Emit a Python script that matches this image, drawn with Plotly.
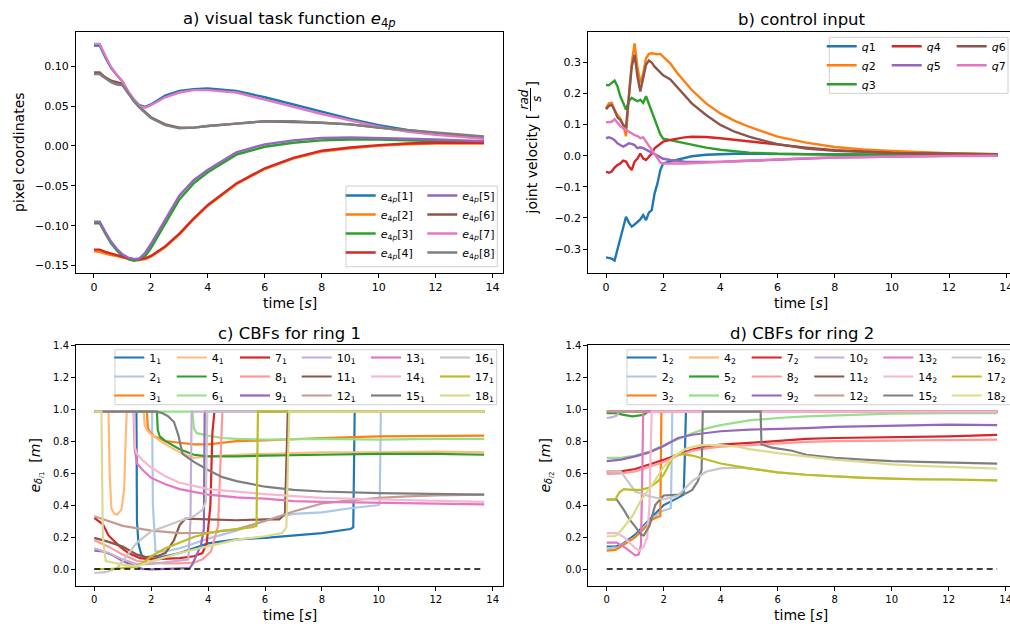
import plotly.graph_objects as go

W, H = 1010, 626


def px(x):
    return x / W


def py(y):
    return 1 - y / H


FONT = "DejaVu Sans"

# ---------------- a) visual task function ----------------
T_A = [0, 0.2, 0.4, 0.6, 0.8, 1.0, 1.2, 1.4, 1.6, 1.8, 2.0, 2.5, 3, 3.5, 4, 5, 6, 7, 8, 9, 10, 11, 12, 13, 13.7]
E4P_1 = [0.126, 0.126, 0.111, 0.098, 0.089, 0.081, 0.068, 0.058, 0.051, 0.049, 0.052, 0.063, 0.069, 0.071, 0.072, 0.069, 0.061, 0.052, 0.043, 0.034, 0.026, 0.020, 0.016, 0.013, 0.011]
E4P_2 = [-0.132, -0.133, -0.135, -0.137, -0.138, -0.140, -0.141, -0.142, -0.143, -0.142, -0.139, -0.127, -0.111, -0.092, -0.075, -0.048, -0.029, -0.016, -0.007, -0.003, 0.000, 0.002, 0.003, 0.003, 0.003]
E4P_3 = [-0.097, -0.097, -0.110, -0.122, -0.131, -0.138, -0.142, -0.144, -0.143, -0.138, -0.128, -0.097, -0.067, -0.047, -0.033, -0.011, -0.001, 0.004, 0.007, 0.008, 0.008, 0.007, 0.006, 0.005, 0.004]
E4P_4 = [-0.130, -0.130, -0.133, -0.135, -0.137, -0.139, -0.141, -0.142, -0.142, -0.141, -0.138, -0.126, -0.110, -0.091, -0.074, -0.047, -0.028, -0.015, -0.006, -0.002, 0.001, 0.003, 0.004, 0.004, 0.004]
E4P_5 = [-0.095, -0.095, -0.108, -0.120, -0.129, -0.136, -0.140, -0.142, -0.141, -0.134, -0.123, -0.092, -0.062, -0.043, -0.030, -0.008, 0.002, 0.007, 0.010, 0.0105, 0.010, 0.009, 0.008, 0.007, 0.006]
E4P_6 = [0.092, 0.092, 0.086, 0.082, 0.080, 0.078, 0.067, 0.057, 0.049, 0.042, 0.036, 0.027, 0.023, 0.023, 0.025, 0.028, 0.031, 0.030, 0.029, 0.027, 0.023, 0.019, 0.016, 0.013, 0.011]
E4P_7 = [0.128, 0.128, 0.113, 0.099, 0.089, 0.081, 0.068, 0.058, 0.050, 0.048, 0.051, 0.061, 0.067, 0.070, 0.070, 0.067, 0.058, 0.049, 0.040, 0.032, 0.024, 0.018, 0.014, 0.011, 0.009]
E4P_8 = [0.090, 0.090, 0.085, 0.080, 0.077, 0.076, 0.066, 0.056, 0.048, 0.041, 0.035, 0.026, 0.022, 0.023, 0.025, 0.028, 0.031, 0.031, 0.029, 0.027, 0.023, 0.020, 0.017, 0.014, 0.012]

# ---------------- b) control input ----------------
T_B = [0, 0.1, 0.2, 0.3, 0.4, 0.5, 0.6, 0.7, 0.8, 0.9, 1.0, 1.1, 1.2, 1.3, 1.4, 1.5, 1.6, 1.7, 1.8, 1.9, 2.0,
       2.25, 2.5, 2.75, 3, 3.5, 4, 4.5, 5, 6, 7, 8, 9, 10, 11, 12, 13, 13.7]
Q1 = [-0.327, -0.329, -0.331, -0.337, -0.303, -0.271, -0.239, -0.196, -0.215, -0.228, -0.221, -0.212, -0.205, -0.191, -0.207, -0.183, -0.175, -0.121, -0.089, -0.046, -0.025,
      -0.018, -0.012, -0.006, -0.002, 0.003, 0.005, 0.006, 0.006, 0.006, 0.005, 0.004, 0.004, 0.003, 0.003, 0.002, 0.002, 0.002]
Q2 = [0.152, 0.168, 0.170, 0.146, 0.131, 0.120, 0.099, 0.063, 0.190, 0.297, 0.361, 0.286, 0.233, 0.265, 0.313, 0.327, 0.329, 0.327, 0.326, 0.327, 0.318,
      0.296, 0.265, 0.238, 0.211, 0.168, 0.136, 0.112, 0.093, 0.061, 0.042, 0.028, 0.020, 0.015, 0.011, 0.008, 0.006, 0.005]
Q3 = [0.227, 0.226, 0.234, 0.241, 0.223, 0.191, 0.170, 0.148, 0.175, 0.186, 0.180, 0.175, 0.180, 0.170, 0.191, 0.166, 0.143, 0.116, 0.089, 0.068, 0.055,
      0.050, 0.045, 0.040, 0.034, 0.026, 0.019, 0.014, 0.010, 0.006, 0.004, 0.003, 0.003, 0.003, 0.003, 0.003, 0.003, 0.003]
Q4 = [-0.051, -0.055, -0.051, -0.038, -0.030, -0.025, -0.016, -0.019, -0.035, -0.046, -0.019, -0.009, 0.007, -0.009, -0.014, -0.003, 0.007, 0.024, 0.031, 0.040, 0.045,
      0.051, 0.056, 0.059, 0.061, 0.060, 0.056, 0.051, 0.045, 0.034, 0.026, 0.018, 0.013, 0.009, 0.007, 0.005, 0.004, 0.004]
Q5 = [0.056, 0.059, 0.056, 0.050, 0.040, 0.034, 0.029, 0.034, 0.040, 0.038, 0.034, 0.024, 0.027, 0.024, 0.020, 0.016, 0.010, 0.005, 0.000, -0.005, -0.010,
      -0.014, -0.017, -0.019, -0.020, -0.021, -0.020, -0.018, -0.016, -0.012, -0.009, -0.006, -0.004, -0.002, -0.001, 0.000, 0.000, 0.000]
Q6 = [0.149, 0.160, 0.163, 0.146, 0.123, 0.115, 0.099, 0.093, 0.190, 0.286, 0.324, 0.254, 0.206, 0.254, 0.292, 0.306, 0.299, 0.286, 0.276, 0.265, 0.258,
      0.245, 0.220, 0.193, 0.168, 0.131, 0.099, 0.077, 0.061, 0.037, 0.023, 0.016, 0.012, 0.009, 0.007, 0.006, 0.005, 0.005]
Q7 = [0.107, 0.109, 0.109, 0.117, 0.104, 0.095, 0.088, 0.082, 0.077, 0.070, 0.066, 0.063, 0.056, 0.059, 0.045, 0.034, 0.018, 0.005, -0.009, -0.022, -0.025,
      -0.026, -0.025, -0.025, -0.024, -0.022, -0.020, -0.017, -0.015, -0.011, -0.008, -0.006, -0.004, -0.003, -0.002, -0.001, 0.000, 0.000]

# ---------------- c) CBFs for ring 1 ----------------
R1_T01 = [0, 1.48, 1.5, 1.55, 1.65, 1.8, 2.0, 3.0, 4.0, 5.0, 6.0, 7.0, 8.0, 9.0, 9.1, 9.15, 13.7]
R1_V01 = [0.985, 0.985, 0.30, 0.16, 0.09, 0.07, 0.06, 0.10, 0.16, 0.185, 0.195, 0.21, 0.225, 0.25, 0.26, 0.985, 0.985]
R1_T02 = [0, 2.03, 2.06, 2.15, 2.5, 3.0, 3.5, 4.0, 5.0, 6.0, 7.0, 8.0, 9.0, 10.0, 10.03, 10.07, 13.7]
R1_V02 = [0.985, 0.985, 0.40, 0.11, 0.11, 0.13, 0.16, 0.19, 0.24, 0.305, 0.345, 0.355, 0.38, 0.40, 0.41, 0.985, 0.985]
R1_T03 = [0, 1.85, 1.88, 1.95, 2.1, 2.5, 3.0, 3.5, 4.0, 5.0, 6.0, 8.0, 10.0, 12.0, 13.7]
R1_V03 = [0.985, 0.985, 0.88, 0.86, 0.83, 0.80, 0.79, 0.78, 0.78, 0.80, 0.805, 0.82, 0.83, 0.835, 0.835]
R1_T04 = [0, 0.5, 0.54, 0.6, 0.7, 0.8, 0.95, 1.05, 1.1, 1.14, 1.74, 1.77, 1.85, 2.0, 2.5, 3.0, 3.5, 4.0, 5.0, 6.0, 8.0, 10.0, 12.0, 13.7]
R1_V04 = [0.985, 0.985, 0.60, 0.38, 0.345, 0.34, 0.37, 0.50, 0.80, 0.985, 0.985, 0.90, 0.87, 0.84, 0.78, 0.73, 0.695, 0.705, 0.715, 0.72, 0.73, 0.73, 0.735, 0.73]
R1_T05 = [0, 2.2, 2.23, 2.3, 2.5, 3.0, 3.5, 4.0, 5.0, 6.0, 8.0, 10.0, 12.0, 13.7]
R1_V05 = [0.985, 0.985, 0.87, 0.83, 0.80, 0.75, 0.715, 0.705, 0.705, 0.71, 0.715, 0.72, 0.72, 0.715]
R1_T06 = [0, 3.45, 3.5, 3.6, 4.0, 4.5, 5.0, 6.0, 8.0, 10.0, 12.0, 13.7]
R1_V06 = [0.985, 0.985, 0.88, 0.85, 0.835, 0.82, 0.815, 0.81, 0.815, 0.81, 0.815, 0.815]
R1_T07 = [0, 0.3, 0.5, 0.9, 1.2, 1.6, 2.0, 2.5, 3.0, 3.5, 3.8, 3.95, 4.08, 4.15, 4.22, 13.7]
R1_V07 = [0.32, 0.28, 0.21, 0.14, 0.10, 0.068, 0.06, 0.062, 0.068, 0.08, 0.10, 0.16, 0.40, 0.85, 0.985, 0.985]
R1_T08 = [0, 0.5, 1.0, 1.5, 2.0, 2.5, 3.0, 3.5, 3.8, 4.1, 4.35, 4.45, 4.5, 13.7]
R1_V08 = [0.18, 0.14, 0.09, 0.05, 0.04, 0.035, 0.035, 0.04, 0.06, 0.11, 0.27, 0.70, 0.985, 0.985]
R1_T09 = [0, 0.3, 0.6, 1.0, 1.4, 1.7, 2.0, 2.5, 3.0, 3.35, 3.45, 3.6, 3.75, 3.85, 3.88, 13.7]
R1_V09 = [0.115, 0.11, 0.09, 0.05, 0.02, 0.0, -0.002, 0.0, 0.002, 0.005, 0.03, 0.09, 0.15, 0.25, 0.985, 0.985]
R1_T10 = [0, 0.5, 1.0, 1.5, 2.0, 2.5, 3.0, 3.3, 3.38, 3.42, 13.7]
R1_V10 = [0.13, 0.10, 0.06, 0.03, 0.03, 0.04, 0.05, 0.06, 0.30, 0.985, 0.985]
R1_T11 = [0, 0.5, 1.0, 1.5, 1.8, 2.2, 2.5, 2.8, 3.0, 3.2, 4.0, 5.0, 6.0, 6.5, 6.7, 6.75, 6.8, 13.7]
R1_V11 = [0.195, 0.17, 0.14, 0.09, 0.075, 0.08, 0.10, 0.18, 0.275, 0.315, 0.31, 0.305, 0.31, 0.31, 0.345, 0.70, 0.985, 0.985]
R1_T12 = [0, 1.0, 2.0, 3.0, 4.0, 5.0, 6.0, 7.0, 8.0, 9.0, 10.0, 11.0, 12.0, 13.7]
R1_V12 = [0.33, 0.27, 0.24, 0.225, 0.227, 0.248, 0.30, 0.36, 0.41, 0.43, 0.445, 0.455, 0.46, 0.465]
R1_T13 = [0, 1.38, 1.42, 1.5, 1.7, 2.0, 2.5, 3.0, 4.0, 5.0, 6.0, 7.0, 8.0, 10.0, 12.0, 13.7]
R1_V13 = [0.985, 0.985, 0.75, 0.66, 0.62, 0.57, 0.53, 0.50, 0.465, 0.448, 0.44, 0.425, 0.42, 0.415, 0.41, 0.405]
R1_T14 = [0, 1.40, 1.43, 1.5, 1.7, 2.0, 2.5, 3.0, 4.0, 5.0, 6.0, 7.0, 8.0, 10.0, 12.0, 13.7]
R1_V14 = [0.985, 0.985, 0.76, 0.72, 0.68, 0.635, 0.58, 0.54, 0.50, 0.482, 0.468, 0.456, 0.445, 0.435, 0.425, 0.42]
R1_T15 = [0, 2.2, 2.4, 2.6, 2.8, 2.95, 3.1, 3.5, 4.0, 4.5, 5.0, 6.0, 7.0, 8.0, 10.0, 12.0, 13.7]
R1_V15 = [0.985, 0.985, 0.975, 0.955, 0.92, 0.84, 0.72, 0.67, 0.62, 0.575, 0.55, 0.515, 0.495, 0.485, 0.475, 0.47, 0.465]
R1_T16 = [0, 0.4, 0.8, 1.0, 1.2, 1.5, 2.0, 2.5, 3.0, 3.5, 3.8, 3.92, 3.97, 13.7]
R1_V16 = [-0.025, -0.02, 0.005, 0.05, 0.10, 0.165, 0.235, 0.27, 0.30, 0.33, 0.37, 0.42, 0.985, 0.985]
R1_T17 = [0, 0.5, 1.0, 1.5, 1.8, 2.0, 2.5, 3.0, 3.5, 4.0, 4.5, 5.0, 5.5, 5.7, 5.75, 13.7]
R1_V17 = [0.0, 0.0, 0.005, 0.015, 0.05, 0.08, 0.13, 0.165, 0.20, 0.225, 0.24, 0.25, 0.26, 0.27, 0.985, 0.985]
R1_T18 = [0, 0.25, 0.3, 0.4, 1.0, 1.5, 2.0, 3.0, 4.0, 5.0, 6.0, 6.6, 6.75, 6.8, 6.85, 13.7]
R1_V18 = [0.985, 0.985, 0.20, 0.05, 0.027, 0.017, 0.048, 0.10, 0.142, 0.184, 0.205, 0.225, 0.26, 0.70, 0.985, 0.985]

# ---------------- d) CBFs for ring 2 ----------------
R2_T01 = [0, 0.3, 0.5, 1.0, 1.5, 2.0, 2.5, 2.7, 2.74, 2.78, 13.7]
R2_V01 = [0.14, 0.14, 0.15, 0.215, 0.31, 0.40, 0.445, 0.465, 0.70, 0.985, 0.985]
R2_T02 = [0, 0.4, 1.0, 1.5, 1.9, 2.0, 2.25, 2.28, 2.3, 13.7]
R2_V02 = [0.13, 0.135, 0.20, 0.30, 0.36, 0.365, 0.38, 0.70, 0.985, 0.985]
R2_T03 = [0, 0.3, 0.5, 1.0, 1.3, 1.6, 1.85, 1.88, 1.92, 13.7]
R2_V03 = [0.115, 0.12, 0.14, 0.20, 0.25, 0.31, 0.33, 0.33, 0.985, 0.985]
R2_T04 = [0, 13.7]
R2_V04 = [0.985, 0.985]
R2_T05 = [0, 0.3, 0.6, 0.9, 1.1, 1.3, 1.45, 13.7]
R2_V05 = [0.975, 0.975, 0.965, 0.955, 0.96, 0.965, 0.985, 0.985]
R2_T06 = [0, 0.5, 1.0, 1.5, 2.0, 2.5, 3.0, 3.5, 4.0, 5.0, 6.0, 7.0, 8.0, 10.0, 12.0, 13.7]
R2_V06 = [0.695, 0.695, 0.71, 0.735, 0.775, 0.81, 0.85, 0.88, 0.90, 0.93, 0.945, 0.955, 0.962, 0.972, 0.976, 0.976]
R2_T07 = [0, 0.5, 1.0, 1.5, 2.0, 2.5, 3.0, 3.5, 4.0, 5.0, 6.0, 7.0, 8.0, 10.0, 12.0, 13.7]
R2_V07 = [0.61, 0.611, 0.626, 0.653, 0.684, 0.715, 0.747, 0.768, 0.778, 0.789, 0.803, 0.814, 0.82, 0.826, 0.83, 0.84]
R2_T08 = [0, 0.5, 1.0, 1.5, 2.0, 2.5, 3.0, 3.5, 4.0, 5.0, 6.0, 7.0, 8.0, 10.0, 12.0, 13.7]
R2_V08 = [0.595, 0.598, 0.61, 0.64, 0.67, 0.71, 0.74, 0.755, 0.765, 0.775, 0.785, 0.795, 0.80, 0.805, 0.81, 0.81]
R2_T09 = [0, 0.5, 1.0, 1.5, 2.0, 2.5, 3.0, 3.5, 4.0, 5.0, 6.0, 7.0, 8.0, 10.0, 12.0, 13.7]
R2_V09 = [0.675, 0.685, 0.705, 0.73, 0.77, 0.82, 0.84, 0.851, 0.862, 0.872, 0.876, 0.882, 0.889, 0.897, 0.903, 0.90]
R2_T10 = [0, 0.2, 0.35, 0.45, 13.7]
R2_V10 = [0.945, 0.95, 0.96, 0.985, 0.985]
R2_T11 = [0, 13.7]
R2_V11 = [0.985, 0.985]
R2_T12 = [0, 13.7]
R2_V12 = [0.985, 0.985]
R2_T13 = [0, 0.35, 0.6, 0.85, 1.0, 1.12, 1.2, 1.25, 1.28, 13.7]
R2_V13 = [0.165, 0.165, 0.14, 0.105, 0.085, 0.09, 0.15, 0.60, 0.985, 0.985]
R2_T14 = [0, 0.35, 0.6, 0.8, 1.0, 1.15, 1.3, 1.42, 1.5, 1.55, 1.58, 13.7]
R2_V14 = [0.225, 0.225, 0.20, 0.165, 0.13, 0.115, 0.14, 0.20, 0.40, 0.80, 0.985, 0.985]
R2_T15 = [0, 0.35, 0.6, 0.8, 1.0, 1.2, 1.3, 1.5, 1.7, 2.0, 2.5, 2.8, 3.0, 3.2, 3.33, 3.37, 5.4, 5.43, 5.8, 6.5, 7.0, 8.0, 9.0, 10.0, 11.0, 12.0, 13.0, 13.7]
R2_V15 = [0.435, 0.435, 0.37, 0.31, 0.265, 0.215, 0.21, 0.27, 0.40, 0.46, 0.465, 0.475, 0.495, 0.55, 0.62, 0.985, 0.985, 0.78, 0.76, 0.74, 0.715, 0.695, 0.685, 0.675, 0.67, 0.665, 0.66, 0.66]
R2_T16 = [0, 0.5, 0.7, 1.0, 1.5, 2.0, 2.5, 3.0, 3.5, 4.0, 4.6, 5.0, 6.0, 7.0, 8.0, 10.0, 12.0, 13.7]
R2_V16 = [0.61, 0.61, 0.56, 0.485, 0.455, 0.435, 0.46, 0.55, 0.61, 0.63, 0.635, 0.63, 0.605, 0.59, 0.58, 0.565, 0.56, 0.555]
R2_T17 = [0, 0.3, 0.45, 0.6, 0.9, 1.2, 1.5, 1.8, 2.0, 2.2, 2.35, 2.6, 3.0, 3.5, 4.0, 5.0, 6.0, 7.0, 8.0, 9.0, 10.0, 11.0, 12.0, 13.7]
R2_V17 = [0.435, 0.435, 0.48, 0.50, 0.495, 0.495, 0.51, 0.55, 0.59, 0.66, 0.71, 0.72, 0.71, 0.685, 0.66, 0.63, 0.605, 0.59, 0.58, 0.57, 0.565, 0.56, 0.56, 0.555]
R2_T18 = [0, 0.3, 0.5, 0.9, 1.2, 1.7, 2.0, 2.4, 2.8, 3.3, 4.0, 4.6, 5.0, 6.0, 7.0, 8.0, 9.0, 10.0, 11.0, 12.0, 13.7]
R2_V18 = [0.205, 0.205, 0.24, 0.33, 0.43, 0.555, 0.64, 0.71, 0.755, 0.775, 0.775, 0.765, 0.75, 0.725, 0.705, 0.685, 0.67, 0.655, 0.645, 0.638, 0.628]

ZERO_T = [0, 13.7]
ZERO_V = [0, 0]

TAB10 = ["#1f77b4", "#ff7f0e", "#2ca02c", "#d62728", "#9467bd", "#8c564b", "#e377c2", "#7f7f7f"]
TAB20 = ["#1f77b4", "#aec7e8", "#ff7f0e", "#ffbb78", "#2ca02c", "#98df8a", "#d62728", "#ff9896",
         "#9467bd", "#c5b0d5", "#8c564b", "#c49c94", "#e377c2", "#f7b6d2", "#7f7f7f", "#c7c7c7",
         "#bcbd22", "#dbdb8d"]

TIME_TICKS = [0, 2, 4, 6, 8, 10, 12, 14]
A_TICKS = [-0.15, -0.10, -0.05, 0.00, 0.05, 0.10]
B_TICKS = [-0.3, -0.2, -0.1, 0.0, 0.1, 0.2, 0.3]
CBF_TICKS = [0.0, 0.2, 0.4, 0.6, 0.8, 1.0, 1.2, 1.4]

fig = go.Figure()

# panel a
a_series = [E4P_1, E4P_2, E4P_3, E4P_4, E4P_5, E4P_6, E4P_7, E4P_8]
for i, ys in enumerate(a_series):
    fig.add_trace(go.Scatter(
        x=T_A, y=ys, mode="lines", line=dict(color=TAB10[i], width=2.4),
        name=f"<i>e</i><sub>4<i>p</i></sub>[{i + 1}]", xaxis="x", yaxis="y",
        legend="legend" if i < 4 else "legend2"))

# panel b
b_series = [Q1, Q2, Q3, Q4, Q5, Q6, Q7]
b_legend = ["legend3", "legend3", "legend3", "legend4", "legend4", "legend5", "legend5"]
for i, ys in enumerate(b_series):
    fig.add_trace(go.Scatter(
        x=T_B, y=ys, mode="lines", line=dict(color=TAB10[i], width=2.4),
        name=f"<i>q</i>{i + 1}", xaxis="x2", yaxis="y2", legend=b_legend[i]))

ring1 = [(R1_T01, R1_V01), (R1_T02, R1_V02), (R1_T03, R1_V03), (R1_T04, R1_V04), (R1_T05, R1_V05),
         (R1_T06, R1_V06), (R1_T07, R1_V07), (R1_T08, R1_V08), (R1_T09, R1_V09), (R1_T10, R1_V10),
         (R1_T11, R1_V11), (R1_T12, R1_V12), (R1_T13, R1_V13), (R1_T14, R1_V14), (R1_T15, R1_V15),
         (R1_T16, R1_V16), (R1_T17, R1_V17), (R1_T18, R1_V18)]
ring2 = [(R2_T01, R2_V01), (R2_T02, R2_V02), (R2_T03, R2_V03), (R2_T04, R2_V04), (R2_T05, R2_V05),
         (R2_T06, R2_V06), (R2_T07, R2_V07), (R2_T08, R2_V08), (R2_T09, R2_V09), (R2_T10, R2_V10),
         (R2_T11, R2_V11), (R2_T12, R2_V12), (R2_T13, R2_V13), (R2_T14, R2_V14), (R2_T15, R2_V15),
         (R2_T16, R2_V16), (R2_T17, R2_V17), (R2_T18, R2_V18)]

for ring_no, (ring, xa, ya, first_leg) in enumerate([(ring1, "x3", "y3", 6), (ring2, "x4", "y4", 12)], start=1):
    for i, (ts, vs) in enumerate(ring):
        leg_idx = first_leg + i // 3
        fig.add_trace(go.Scatter(
            x=ts, y=vs, mode="lines", line=dict(color=TAB20[i], width=2.2),
            name=f"{i + 1}<sub>{ring_no}</sub>", xaxis=xa, yaxis=ya, legend=f"legend{leg_idx}"))
    fig.add_trace(go.Scatter(
        x=ZERO_T, y=ZERO_V, mode="lines", line=dict(color="black", width=1.5, dash="6px,4px"),
        showlegend=False, xaxis=xa, yaxis=ya, hoverinfo="skip"))

axis_common = dict(showgrid=False, zeroline=False, showline=True, linecolor="black", linewidth=1,
                   ticks="outside", ticklen=4, tickwidth=1, tickcolor="black",
                   ticklabeloverflow="allow")
tick11 = dict(family=FONT, size=11, color="black")
tick10 = dict(family=FONT, size=10, color="black")

top_dom = [py(272.7), py(32.3)]
bot_dom = [py(585.7), py(345.3)]
left_dom = [px(76), px(502.8)]
right_dom = [px(588.3), 1.0]

layout_axes = dict(
    xaxis=dict(axis_common, domain=left_dom, range=[-0.632, 14.36], tickvals=TIME_TICKS, anchor="y", mirror=True, tickfont=tick11),
    yaxis=dict(axis_common, domain=top_dom, range=[-0.159, 0.1425], tickvals=A_TICKS, tickformat=".2f", anchor="x", mirror=True, tickfont=tick11),
    xaxis2=dict(axis_common, domain=right_dom, range=[-0.619, 14.13], tickvals=TIME_TICKS, anchor="y2", mirror=True, tickfont=tick11),
    yaxis2=dict(axis_common, domain=top_dom, range=[-0.376, 0.3965], tickvals=B_TICKS, tickformat=".1f", anchor="x2", mirror=False, tickfont=tick11),
    xaxis3=dict(axis_common, domain=left_dom, range=[-0.643, 14.355], tickvals=TIME_TICKS, anchor="y3", mirror=True, tickfont=tick10),
    yaxis3=dict(axis_common, domain=bot_dom, range=[-0.1045, 1.4], tickvals=CBF_TICKS, tickformat=".1f", anchor="x3", mirror=True, tickfont=tick10),
    xaxis4=dict(axis_common, domain=right_dom, range=[-0.646, 14.15], tickvals=TIME_TICKS, anchor="y4", mirror=True, tickfont=tick10),
    yaxis4=dict(axis_common, domain=bot_dom, range=[-0.1045, 1.4], tickvals=CBF_TICKS, tickformat=".1f", anchor="x4", mirror=False, tickfont=tick10),
)

# legends: one plotly legend per column, frames drawn as shapes
leg_font = dict(family=FONT, size=11, color="black")


def legend_at(text_x, first_row_y):
    return dict(x=px(text_x - 40), xanchor="left", y=py(first_row_y - 14.5), yanchor="top",
                orientation="v", bgcolor="rgba(0,0,0,0)", borderwidth=0, font=leg_font,
                itemwidth=30, tracegroupgap=0)


legends = {}
a_row0 = 195.5
legends["legend"] = legend_at(380.7, a_row0)
legends["legend2"] = legend_at(462.3, a_row0)
b_row0 = 46.3
for k, tx in zip(["legend3", "legend4", "legend5"], [861.7, 926.7, 991.7]):
    legends[k] = legend_at(tx, b_row0)
c_row0 = 357.5
for j, tx in enumerate([149.3, 211.7, 275.0, 336.7, 406.0, 475.0]):
    legends[f"legend{6 + j}"] = legend_at(tx, c_row0)
for j, tx in enumerate([661.7, 724.0, 786.7, 849.3, 918.3, 986.7]):
    legends[f"legend{12 + j}"] = legend_at(tx, c_row0)


def frame(x0, y0, x1, y1):
    return dict(type="rect", xref="paper", yref="paper", x0=px(x0), x1=px(x1), y0=py(y1), y1=py(y0),
                line=dict(color="#d0d0d0", width=1), fillcolor="rgba(255,255,255,0.8)", layer="above")


shapes = [
    frame(346, 186, 497.3, 266.7),
    frame(829.3, 37.3, 1008, 93.3),
    frame(115, 349.7, 496.7, 404.7),
    frame(627, 349.7, 1015, 404.7),
    # fraction bar of the rad/s unit
    dict(type="line", xref="paper", yref="paper", x0=px(530.5), x1=px(530.5), y0=py(111), y1=py(88),
         line=dict(color="black", width=1)),
]

title_font = dict(family=FONT, size=16.5, color="black")
label_font = dict(family=FONT, size=14, color="black")
frac_font = dict(family=FONT, size=12, color="black")


def ann(text, x, y, font, angle=0, xanchor="center", yanchor="middle"):
    return dict(text=text, x=px(x), y=py(y), xref="paper", yref="paper", showarrow=False,
                font=font, textangle=angle, xanchor=xanchor, yanchor=yanchor)


annotations = [
    ann("a) visual task function <i>e</i><sub>4<i>p</i></sub>", 289.5, 19.5, title_font),
    ann("b) control input", 802, 19.5, title_font),
    ann("c) CBFs for ring 1", 289.5, 333, title_font),
    ann("d) CBFs for ring 2", 802, 333, title_font),
    ann("time [<i>s</i>]", 289.5, 302.5, label_font),
    ann("time [<i>s</i>]", 801, 302.5, label_font),
    ann("time [<i>s</i>]", 289.5, 614.5, label_font),
    ann("time [<i>s</i>]", 801, 614.5, label_font),
    ann("pixel coordinates", 18.5, 152.5, label_font, angle=-90),
    ann("joint velocity [", 531.5, 164, label_font, angle=-90),
    ann("<i>rad</i>", 524, 99.5, frac_font, angle=-90),
    ann("<i>s</i>", 537.5, 99.5, frac_font, angle=-90),
    ann("]", 531.5, 84, label_font, angle=-90),
    ann("<i>e</i><sub><i>δ</i><sub><i>i</i>1</sub></sub>  [<i>m</i>]", 36, 465.5, label_font, angle=-90),
    ann("<i>e</i><sub><i>δ</i><sub><i>i</i>2</sub></sub>  [<i>m</i>]", 546, 465.5, label_font, angle=-90),
]

fig.update_layout(
    width=W, height=H,
    margin=dict(l=0, r=0, t=0, b=0, pad=0, autoexpand=False),
    paper_bgcolor="white", plot_bgcolor="white",
    font=dict(family=FONT, color="black"),
    showlegend=True,
    shapes=shapes,
    annotations=annotations,
    **layout_axes,
    **legends,
)

fig.write_html("out.html")
